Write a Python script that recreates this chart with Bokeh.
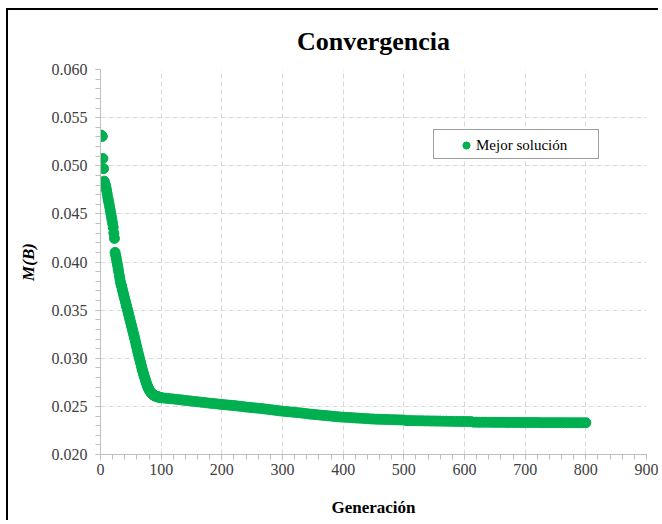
from bokeh.plotting import figure
from bokeh.models import (Range1d, SingleIntervalTicker, NumeralTickFormatter,
                          ColumnDataSource, Legend, LegendItem)
from bokeh.embed import file_html
from bokeh.resources import INLINE

# ---- data ----
gen_early = list(range(0, 101))
val_early = [
    0.05320, 0.05315, 0.05310, 0.05305, 0.05075, 0.04970, 0.04840, 0.04820, 0.04800, 0.04775,
    0.04745, 0.04710, 0.04670, 0.04640, 0.04610, 0.04575, 0.04540, 0.04505, 0.04470, 0.04435,
    0.04400, 0.04360, 0.04300, 0.04245, 0.04100, 0.04070, 0.04040, 0.04005, 0.03970, 0.03935,
    0.03900, 0.03860, 0.03825, 0.03790, 0.03760, 0.03745, 0.03715, 0.03690, 0.03665, 0.03640,
    0.03615, 0.03590, 0.03565, 0.03540, 0.03515, 0.03490, 0.03465, 0.03440, 0.03415, 0.03390,
    0.03365, 0.03340, 0.03315, 0.03290, 0.03265, 0.03240, 0.03215, 0.03190, 0.03162, 0.03135,
    0.03108, 0.03080, 0.03055, 0.03030, 0.03005, 0.02980, 0.02955, 0.02930, 0.02905, 0.02880,
    0.02858, 0.02836, 0.02815, 0.02795, 0.02775, 0.02755, 0.02735, 0.02718, 0.02702, 0.02688,
    0.02675, 0.02664, 0.02654, 0.02645, 0.02637, 0.02630, 0.02624, 0.02619, 0.02615, 0.02612,
    0.02609, 0.02606, 0.02604, 0.02602, 0.02600, 0.02598, 0.02597, 0.02595, 0.02594, 0.02592,
    0.02590,
]
gen_late = list(range(105, 801, 5))
val_late = [
    0.02586, 0.02583, 0.02580, 0.02577, 0.02573, 0.02570, 0.02566, 0.02562, 0.02558, 0.02555,
    0.02551, 0.02548, 0.02544, 0.02541, 0.02537, 0.02533, 0.02530, 0.02527, 0.02523, 0.02520,
    0.02517, 0.02514, 0.02511, 0.02508, 0.02505, 0.02501, 0.02497, 0.02493, 0.02490, 0.02487,
    0.02484, 0.02481, 0.02478, 0.02474, 0.02470, 0.02466, 0.02462, 0.02458, 0.02454, 0.02450,
    0.02447, 0.02444, 0.02441, 0.02438, 0.02435, 0.02432, 0.02428, 0.02424, 0.02420, 0.02417,
    0.02414, 0.02411, 0.02408, 0.02405, 0.02402, 0.02399, 0.02396, 0.02393, 0.02390, 0.02388,
    0.02386, 0.02384, 0.02382, 0.02380, 0.02378, 0.02376, 0.02374, 0.02372, 0.02370, 0.02368,
    0.02367, 0.02366, 0.02365, 0.02364, 0.02363, 0.02362, 0.02361, 0.02360, 0.02359, 0.02358,
    0.02352, 0.02352, 0.02351, 0.02351, 0.02350, 0.02350, 0.02349, 0.02349, 0.02348, 0.02348,
    0.02347, 0.02347, 0.02346, 0.02346, 0.02345, 0.02345, 0.02344, 0.02344, 0.02343, 0.02343,
    0.02342, 0.02342, 0.02336, 0.02336, 0.02335, 0.02335, 0.02335, 0.02335, 0.02334, 0.02334,
    0.02334, 0.02334, 0.02334, 0.02333, 0.02333, 0.02333, 0.02333, 0.02333, 0.02332, 0.02332,
    0.02332, 0.02332, 0.02332, 0.02332, 0.02331, 0.02331, 0.02331, 0.02331, 0.02331, 0.02331,
    0.02331, 0.02331, 0.02330, 0.02330, 0.02330, 0.02330, 0.02330, 0.02330, 0.02330, 0.02330,
]
generations = gen_early + gen_late
best_values = val_early + val_late

title_text = "Convergencia"
x_label = "Generación"
y_label = "M(B)"
legend_label = "Mejor solución"

SERIF = "Liberation Serif"
GREEN = "#00b050"

p = figure(width=652, height=512, output_backend="svg", toolbar_location=None,
           x_range=Range1d(0, 900), y_range=Range1d(0.020, 0.060),
           min_border_left=92, min_border_right=14, min_border_top=59, min_border_bottom=68,
           background_fill_color="white", border_fill_color="white")
p.margin = (8, 0, 0, 6)
p.styles = {"border-left": "2px solid black", "border-top": "2px solid black"}
p.outline_line_color = None

p.title.text = title_text
p.title.text_font = SERIF
p.title.text_font_size = "26px"
p.title.text_font_style = "bold"
p.title.align = "center"
p.title.text_color = "black"
p.title.standoff = 27

src = ColumnDataSource(dict(x=generations, y=best_values))
r = p.scatter("x", "y", source=src, size=10, fill_color=GREEN, line_color=GREEN)
# invisible renderer used only to size the legend frame
r_box = p.scatter(x=[], y=[], size=1, fill_alpha=0, line_alpha=0)

# axes
p.xaxis.ticker = SingleIntervalTicker(interval=100, num_minor_ticks=5)
p.yaxis.ticker = SingleIntervalTicker(interval=0.005, num_minor_ticks=5)
p.yaxis.formatter = NumeralTickFormatter(format="0.000")
for ax in (p.xaxis, p.yaxis):
    ax.axis_line_color = "#bfbfbf"
    ax.major_tick_line_color = "#bfbfbf"
    ax.minor_tick_line_color = "#bfbfbf"
    ax.major_tick_out = 5
    ax.major_tick_in = 0
    ax.minor_tick_out = 5
    ax.minor_tick_in = 0
    ax.major_label_text_font = SERIF
    ax.major_label_text_font_size = "16px"
    ax.major_label_text_color = "#404040"
    ax.axis_label_text_font = SERIF
    ax.axis_label_text_font_size = "17px"
    ax.axis_label_text_color = "black"

p.xaxis.axis_label = x_label
p.xaxis.axis_label_text_font_style = "bold"
p.xaxis.major_label_standoff = 4
p.xaxis.axis_label_standoff = 20
p.yaxis.axis_label = y_label
p.yaxis.axis_label_text_font_style = "bold italic"
p.yaxis.major_label_standoff = 8
p.yaxis.axis_label_standoff = 11

for g in (p.xgrid, p.ygrid):
    g.grid_line_color = "#d9d9d9"
    g.grid_line_dash = "5 3"
    g.grid_line_width = 1

# legend frame (box only)
legend_box = Legend(items=[LegendItem(label=" ", renderers=[r_box])],
                    location=(333, 295), padding=5, spacing=0, margin=0,
                    glyph_width=20, glyph_height=18, label_standoff=5, label_width=129,
                    label_text_font=SERIF, label_text_font_size="15px",
                    border_line_color="#404040",
                    border_line_width=1, background_fill_color="white",
                    background_fill_alpha=1.0)
# legend content (marker + text); without a border the legend has no padding
legend_main = Legend(items=[LegendItem(label=legend_label, renderers=[r])],
                     location=(356, 300), padding=0, spacing=0, margin=0,
                     glyph_width=20, glyph_height=18, label_standoff=0, label_width=90,
                     label_text_font=SERIF, label_text_font_size="15px",
                     label_text_color="black", border_line_color=None,
                     background_fill_alpha=0)
p.add_layout(legend_box, "center")
p.add_layout(legend_main, "center")

open("out.html", "w").write(file_html(p, INLINE))
